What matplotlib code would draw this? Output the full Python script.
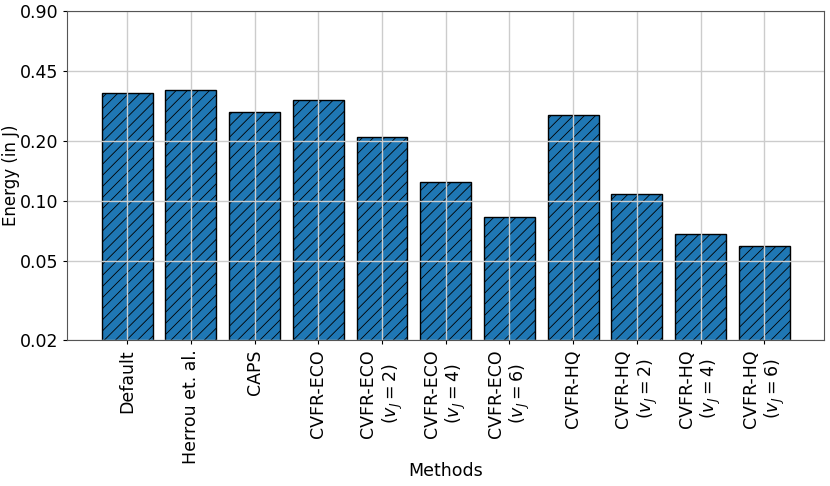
import matplotlib
matplotlib.use("Agg")
import matplotlib.pyplot as plt
from matplotlib.ticker import FixedLocator, FixedFormatter, NullLocator

# energy per method (J)
methods = ['Default', 'Herrou et. al.', 'CAPS', 'CVFR-ECO',
           'CVFR-ECO\n($v_J = 2$)', 'CVFR-ECO\n($v_J = 4$)', 'CVFR-ECO\n($v_J = 6$)',
           'CVFR-HQ', 'CVFR-HQ\n($v_J = 2$)', 'CVFR-HQ\n($v_J = 4$)', 'CVFR-HQ\n($v_J = 6$)']
energy = [0.350, 0.360, 0.281, 0.321, 0.210, 0.125, 0.0833, 0.271, 0.108, 0.068, 0.0592]
yticks = [0.02, 0.05, 0.10, 0.20, 0.45, 0.90]

plt.rcParams['hatch.linewidth'] = 0.6

fig, ax = plt.subplots(figsize=(8.3, 4.86), dpi=100)
fig.subplots_adjust(left=0.081, right=0.993, top=0.977, bottom=0.300)

x = list(range(len(methods)))
ax.bar(x, energy, width=0.8, color='#1f77b4', edgecolor='black', hatch='///', linewidth=1)

ax.set_yscale('log')
ax.set_ylim(0.02, 0.90)
ax.yaxis.set_major_locator(FixedLocator(yticks))
ax.yaxis.set_major_formatter(FixedFormatter(['%.2f' % t for t in yticks]))
ax.yaxis.set_minor_locator(NullLocator())

ax.set_xticks(x)
ax.set_xticklabels(methods, rotation=90, fontsize=12.5)
ax.tick_params(axis='y', labelsize=12.5)
ax.tick_params(width=0.8, length=3)

ax.grid(True, color='#cccccc', linewidth=1)
for s in ax.spines.values():
    s.set_color('#555555')

ax.set_ylabel('Energy (in J)', fontsize=12)
ax.yaxis.set_label_coords(-0.062, 0.5)
ax.set_xlabel('Methods', fontsize=12.5)
ax.xaxis.set_label_coords(0.5, -0.371)

fig.savefig('out.png', dpi=100)
